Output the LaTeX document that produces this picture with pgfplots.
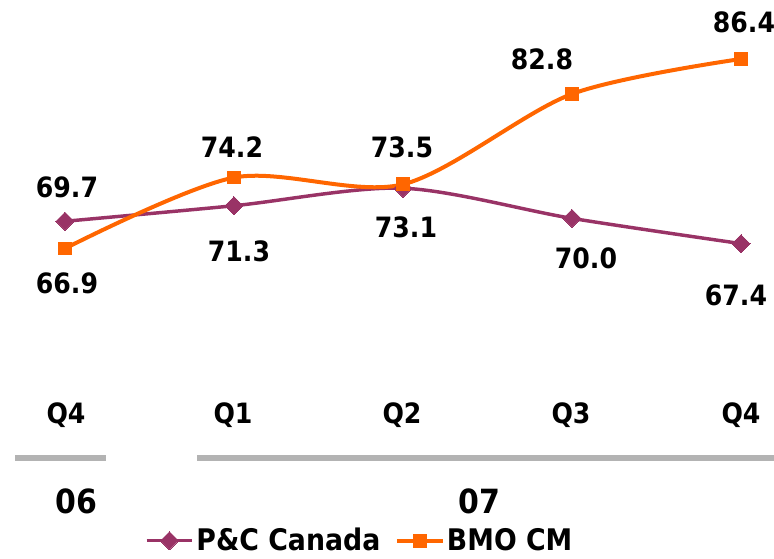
\documentclass[border=0pt]{standalone}
\usepackage{pgfplots}
\pgfplotsset{compat=1.18}
\usepackage{fontspec}
\setmainfont{DejaVu Sans Condensed}[BoldFont={DejaVu Sans Condensed Bold}]
\definecolor{pc}{HTML}{993366}
\definecolor{bmo}{HTML}{FF6600}
\definecolor{gl}{HTML}{B3B3B3}
\tikzset{lbl/.style={font=\bfseries\fontsize{21}{25}\selectfont, anchor=base, inner sep=0pt}}
\begin{document}
\begin{tikzpicture}
\begin{axis}[
 name=ax,
 scale only axis, width=580.5pt, height=418.5pt,
 xmin=-0.3846, xmax=4.1953, ymin=35.05, ymax=92.47,
 hide axis, clip=false,
 legend columns=2,
 legend cell align=left,
 legend style={at={(rel axis cs:0.187,0.031)}, anchor=west, draw=none, fill=none,
   font=\bfseries\fontsize{22.3}{26}\selectfont,
   /tikz/every even column/.append style={column sep=9pt},
   inner sep=0pt, nodes={inner sep=2pt}},
 legend image code/.code={\draw[mark repeat=2,mark phase=2,#1] plot coordinates {(0pt,0pt) (17pt,0pt) (34pt,0pt)};},
]
\addplot[pc, line width=2.6pt, smooth, tension=0.5, mark=square*, mark size=4.8pt, mark options={rotate=45, solid, fill=pc, draw=pc, line width=0pt}]
 coordinates {(0,69.7) (1,71.3) (2,73.1) (3,70.0) (4,67.4)};
\addlegendentry{P\&C Canada}
\addplot[bmo, line width=3pt, smooth, tension=0.5, mark=square*, mark size=4.8pt, mark options={solid, fill=bmo, draw=bmo, line width=0pt}]
 coordinates {(0,66.9) (1,74.2) (2,73.5) (3,82.8) (4,86.4)};
\addlegendentry{BMO CM}
\end{axis}
\begin{scope}[shift={(ax.north west)}, x=0.75pt, y=-0.75pt]
 \node[lbl] at (67,197) {69.7};
 \node[lbl] at (67,293) {66.9};
 \node[lbl] at (232,157) {74.2};
 \node[lbl] at (239,261) {71.3};
 \node[lbl] at (402,157) {73.5};
 \node[lbl] at (406,237) {73.1};
 \node[lbl] at (542,70) {82.8};
 \node[lbl] at (586,268) {70.0};
 \node[lbl] at (744,33) {86.4};
 \node[lbl] at (736,305) {67.4};
 \node[lbl] at (66,423) {Q4};
 \node[lbl] at (233,423) {Q1};
 \node[lbl] at (402,423) {Q2};
 \node[lbl] at (571,423) {Q3};
 \node[lbl] at (741,423) {Q4};
 \draw[gl, line width=4.2pt] (15,458) -- (106,458);
 \draw[gl, line width=4.2pt] (197,458) -- (774,458);
 \node[lbl, font=\bfseries\fontsize{25}{30}\selectfont] at (76,513) {06};
 \node[lbl, font=\bfseries\fontsize{25}{30}\selectfont] at (479,513) {07};
 \pgfresetboundingbox
 \path (0,0) rectangle (774,558);
\end{scope}
\end{tikzpicture}
\end{document}
